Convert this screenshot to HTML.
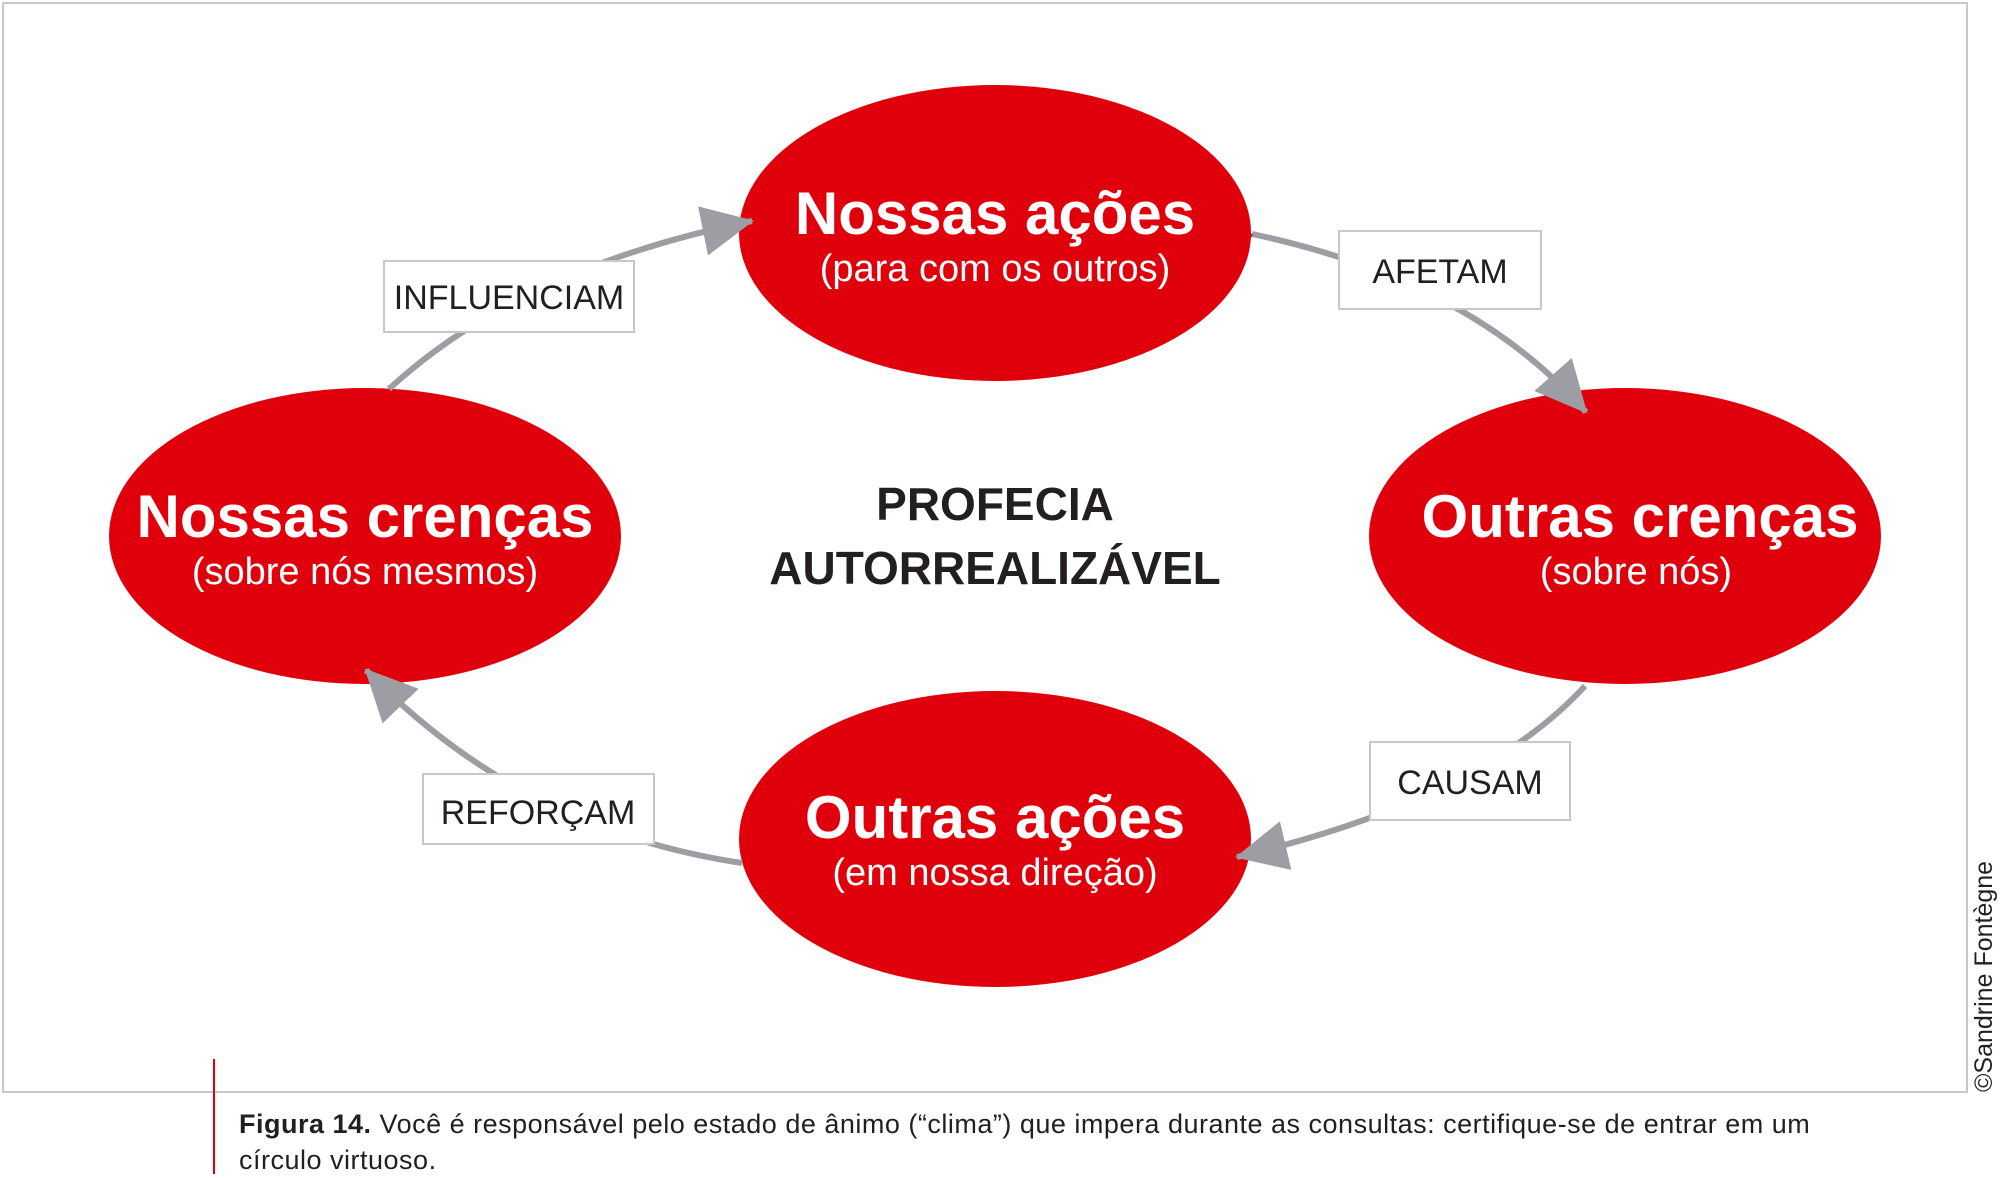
<!DOCTYPE html>
<html><head><meta charset="utf-8"><style>
body{margin:0;width:2000px;height:1174px;background:#fff;overflow:hidden;font-family:"Liberation Sans",sans-serif;}
svg{position:absolute;left:0;top:0}
.cap{position:absolute;left:239px;top:1106px;font-size:27px;letter-spacing:0.5px;color:#231f20;line-height:36px;width:1640px}
.copy{position:absolute;left:1970px;top:1092px;transform-origin:0 0;transform:rotate(-90deg);font-size:25px;color:#231f20;white-space:nowrap}
</style></head><body>
<svg width="2000" height="1174" viewBox="0 0 2000 1174">
<defs><marker id="a" markerUnits="userSpaceOnUse" markerWidth="60" markerHeight="60" refX="50" refY="25" orient="auto"><path d="M0,0 L52,25 L0,50 Z" fill="#9d9ea3"/></marker></defs>
<rect x="3" y="3" width="1964" height="1089" fill="none" stroke="#c8c8c8" stroke-width="2"/>
<g fill="#e0000c">
<ellipse cx="995" cy="233" rx="256" ry="148"/>
<ellipse cx="365" cy="536" rx="256" ry="148"/>
<ellipse cx="1625" cy="536" rx="256" ry="148"/>
<ellipse cx="995" cy="839" rx="256" ry="148"/>
</g>
<g fill="none" stroke="#9d9ea3" stroke-width="6">
<path d="M389,389 Q520,268 752,221" marker-end="url(#a)"/>
<path d="M1252,234 Q1470,280 1586,412" marker-end="url(#a)"/>
<path d="M1585,686 Q1480,800 1237,857" marker-end="url(#a)"/>
<path d="M742,863 Q520,830 366,670" marker-end="url(#a)"/>
</g>
<g fill="#e0000c">
<path d="M1241,233 A256,148 0 0 0 1250,240 L1253,234Z"/>
</g>
<g fill="#fff" stroke="#c8c8c8" stroke-width="2">
<rect x="384" y="261" width="250" height="71"/>
<rect x="1339" y="231" width="202" height="78"/>
<rect x="1370" y="742" width="200" height="78"/>
<rect x="423" y="774" width="231" height="70"/>
</g>
<g font-family="Liberation Sans, sans-serif" text-anchor="middle" fill="#231f20" font-size="34">
<text x="509" y="309">INFLUENCIAM</text>
<text x="1440" y="283">AFETAM</text>
<text x="1470" y="794">CAUSAM</text>
<text x="538" y="824">REFORÇAM</text>
</g>
<g font-family="Liberation Sans, sans-serif" text-anchor="middle" fill="#fff">
<text x="995" y="234" font-size="60" font-weight="bold">Nossas ações</text>
<text x="995" y="281" font-size="38">(para com os outros)</text>
<text x="365" y="537" font-size="60" font-weight="bold">Nossas crenças</text>
<text x="365" y="584" font-size="38">(sobre nós mesmos)</text>
<text x="1640" y="537" font-size="60" font-weight="bold">Outras crenças</text>
<text x="1636" y="584" font-size="38">(sobre nós)</text>
<text x="995" y="838" font-size="60" font-weight="bold">Outras ações</text>
<text x="995" y="885" font-size="38">(em nossa direção)</text>
</g>
<g font-family="Liberation Sans, sans-serif" text-anchor="middle" fill="#231f20" font-size="46" font-weight="bold">
<text x="995" y="520">PROFECIA</text>
<text x="995" y="584">AUTORREALIZÁVEL</text>
</g>
<line x1="214" y1="1059" x2="214" y2="1174" stroke="#e0000c" stroke-width="2"/>
</svg>
<div class="cap"><b>Figura 14.</b> Você é responsável pelo estado de ânimo (“clima”) que impera durante as consultas: certifique-se de entrar em um círculo virtuoso.</div>
<div class="copy">©Sandrine Fontègne</div>
</body></html>
